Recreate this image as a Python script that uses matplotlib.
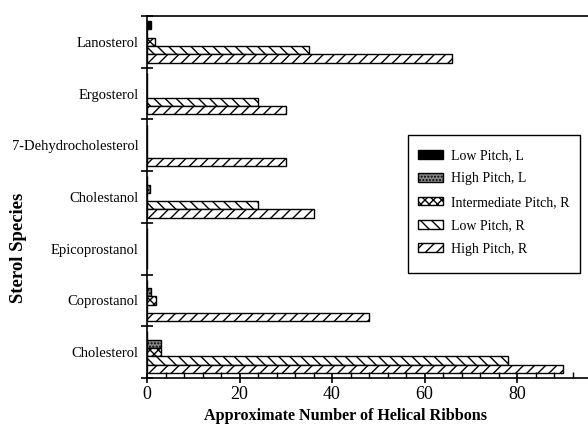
import matplotlib
matplotlib.use("Agg")
import matplotlib.pyplot as plt
import numpy as np
from matplotlib.ticker import MultipleLocator, FixedLocator
from matplotlib.patches import Rectangle

plt.rcParams['font.family'] = ['Liberation Serif', 'DejaVu Serif']
plt.rcParams['hatch.linewidth'] = 1.0

# Categories bottom-to-top
categories = ["Cholesterol", "Coprostanol", "Epicoprostanol", "Cholestanol",
              "7-Dehydrocholesterol", "Ergosterol", "Lanosterol"]
series_names = ["Low Pitch, L", "High Pitch, L", "Intermediate Pitch, R",
                "Low Pitch, R", "High Pitch, R"]
low_pitch_L = [0, 0, 0, 0, 0, 0, 0.8]
high_pitch_L = [3, 0.8, 0, 0.7, 0, 0, 0]
inter_pitch_R = [3, 2, 0, 0, 0, 0, 1.8]
low_pitch_R = [78, 0, 0, 24, 0, 24, 35]
high_pitch_R = [90, 48, 0, 36, 30, 30, 66]
series = [low_pitch_L, high_pitch_L, inter_pitch_R, low_pitch_R, high_pitch_R]

styles = [dict(facecolor='black', hatch=None),
          dict(facecolor='#8a8a8a', hatch='.....'),
          dict(facecolor='white', hatch='xxxx'),
          dict(facecolor='white', hatch='\\\\\\'),
          dict(facecolor='white', hatch='///')]

fig = plt.figure(figsize=(5.88, 4.42), dpi=100)
ax = fig.add_axes([147/588, 1-378/442, (588-147)/588, (378-16)/442])

y = np.arange(len(categories))
bh = 0.16
for i, (vals, st) in enumerate(zip(series, styles)):
    ax.barh(y + 0.32 - bh*i, vals, height=bh, facecolor=st['facecolor'],
            hatch=st['hatch'], edgecolor='black', linewidth=1.0,
            label=series_names[i])

ax.set_xlim(0, 95.35)
ax.set_ylim(-0.5, 6.5)
ax.spines['right'].set_visible(False)
for s in ['left', 'top', 'bottom']:
    ax.spines[s].set_linewidth(1.2)

ax.xaxis.set_major_locator(MultipleLocator(20))
ax.xaxis.set_minor_locator(MultipleLocator(4))
ax.tick_params(axis='x', which='major', direction='inout', length=7, width=1.2,
               labelsize=13, pad=2)
ax.tick_params(axis='x', which='minor', direction='in', length=4, width=1.0)

ax.yaxis.set_major_locator(FixedLocator(y))
ax.set_yticklabels(categories, fontsize=10.5)
ax.yaxis.set_minor_locator(FixedLocator(np.arange(-0.5, 7, 1)))
ax.tick_params(axis='y', which='major', length=0, pad=6)
ax.tick_params(axis='y', which='minor', direction='inout', length=8, width=1.2)

ax.set_xlabel("Approximate Number of Helical Ribbons", fontsize=11.6,
              fontweight='bold')
ax.xaxis.set_label_coords((346-147)/441, -30/362)
ax.set_ylabel("Sterol Species", fontsize=13.5, fontweight='bold')
ax.yaxis.set_label_coords((27-147)/441, 1-(248-16)/362)

# legend frame drawn as a rectangle, entries placed inside it
frame = Rectangle((408/588, 1-273/442), 172/588, 138/442,
                  transform=fig.transFigure, facecolor='white',
                  edgecolor='black', linewidth=1.0, zorder=4, clip_on=False)
ax.add_patch(frame)
leg = ax.legend(loc='upper left', bbox_to_anchor=(418/588, 1-149/442),
                bbox_transform=fig.transFigure, fontsize=10, frameon=False,
                handlelength=1.8, handleheight=0.6, labelspacing=0.75,
                borderpad=0, handletextpad=0.6, borderaxespad=0)
leg.set_zorder(6)

fig.savefig("out.png", dpi=100)
